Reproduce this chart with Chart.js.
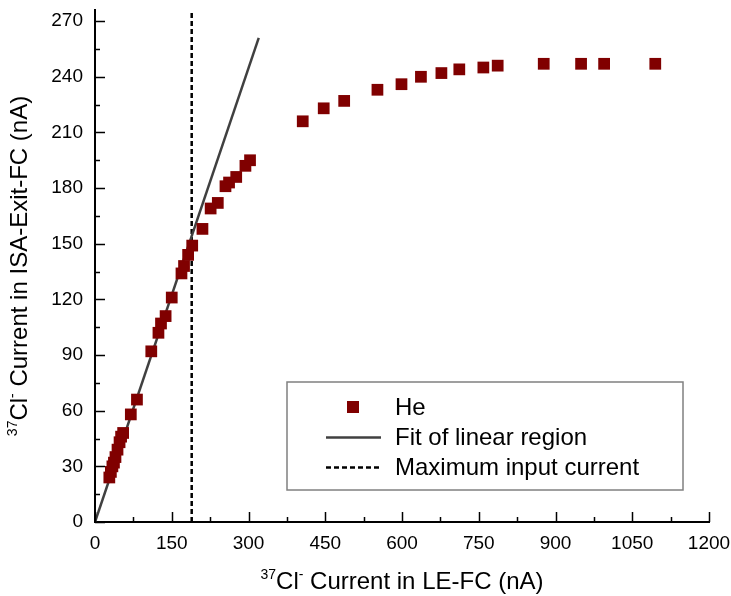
<!DOCTYPE html>
<html><head><meta charset="utf-8">
<script src="https://cdn.jsdelivr.net/npm/chart.js@4/dist/chart.umd.min.js"></script>
<style>html,body{margin:0;padding:0;background:#fff}#wrap{width:731px;height:596px}</style>
</head><body><div id="wrap"><canvas id="c" width="731" height="596"></canvas></div>
<script>
// ---- data ----
const heX = [28,31,34,37,40,44,48,51,55,70,82,110,124,129,138,150,169,174,182,190,210,226,240,255,262,276,294,303,406,447,487,552,599,637,677,712,759,787,877,950,995,1095];
const heY = [24,27,30,32,35,39,43,46,48,58,66,92,102,107,111,121,134,138,144,149,158,169,172,181,183,186,192,195,216,223,227,233,236,240,242,244,245,246,247,247,247,247];
const fitX = [0, 320];
const fitY = [0, 261];
const maxInputX = [189, 189];
const maxInputY = [0, 276];
const xTicks = [0,150,300,450,600,750,900,1050,1200];
const yTicks = [0,30,60,90,120,150,180,210,240,270];
const labels = ['He', 'Fit of linear region', 'Maximum input current'];

const FONT = '"Liberation Sans", Arial, sans-serif';
const zip = (xs, ys) => xs.map((x, i) => ({x, y: ys[i]}));

const innerTicks = {
  id: 'innerTicks',
  afterDraw(chart) {
    const {ctx, chartArea: a, scales: {x, y}} = chart;
    ctx.save();
    ctx.strokeStyle = '#000';
    ctx.lineWidth = 1.5;
    ctx.beginPath();
    for (let i = 0; i < xTicks.length; i++) {
      const px = Math.round(x.getPixelForValue(xTicks[i])) + 0.5;
      ctx.moveTo(px, a.bottom); ctx.lineTo(px, a.bottom - 10);
      if (i < xTicks.length - 1) {
        const pm = Math.round(x.getPixelForValue((xTicks[i] + xTicks[i+1]) / 2)) + 0.5;
        ctx.moveTo(pm, a.bottom); ctx.lineTo(pm, a.bottom - 5);
      }
    }
    for (let i = 0; i < yTicks.length; i++) {
      const py = Math.round(y.getPixelForValue(yTicks[i])) + 0.5;
      ctx.moveTo(a.left, py); ctx.lineTo(a.left + 10, py);
      if (i < yTicks.length - 1) {
        const pm = Math.round(y.getPixelForValue((yTicks[i] + yTicks[i+1]) / 2)) + 0.5;
        ctx.moveTo(a.left, pm); ctx.lineTo(a.left + 5, pm);
      }
    }
    ctx.stroke();
    ctx.restore();
  }
};

function drawRich(ctx, parts, x, y) {
  let total = 0;
  parts.forEach(p => { ctx.font = p[1] + 'px ' + FONT; total += ctx.measureText(p[0]).width; });
  let cx = x - total / 2;
  parts.forEach(p => {
    ctx.font = p[1] + 'px ' + FONT;
    ctx.fillText(p[0], cx, y - p[2]);
    cx += ctx.measureText(p[0]).width;
  });
}

const axisTitles = {
  id: 'axisTitles',
  afterDraw(chart) {
    const {ctx, chartArea: a} = chart;
    ctx.save();
    ctx.fillStyle = '#000';
    ctx.textBaseline = 'alphabetic';
    ctx.textAlign = 'left';
    drawRich(ctx, [['37', 14, 10], ['Cl', 24, 0], ['-', 14, 10], [' Current in LE-FC (nA)', 24, 0]], (a.left + a.right) / 2, 589);
    ctx.translate(27, (a.top + a.bottom) / 2);
    ctx.rotate(-Math.PI / 2);
    drawRich(ctx, [['37', 14, 10], ['Cl', 24, 0], ['-', 14, 10], [' Current in ISA-Exit-FC (nA)', 24, 0]], 0, 0);
    ctx.restore();
  }
};

const boxLegend = {
  id: 'boxLegend',
  afterDraw(chart) {
    const {ctx} = chart;
    const L = 287, T = 382, R = 683, B = 490;
    ctx.save();
    ctx.fillStyle = '#fff';
    ctx.fillRect(L, T, R - L, B - T);
    ctx.strokeStyle = '#808080';
    ctx.lineWidth = 1.5;
    ctx.strokeRect(L, T, R - L, B - T);
    ctx.font = '24px ' + FONT;
    ctx.textBaseline = 'middle';
    chart.data.datasets.forEach((ds, i) => {
      const cy = 407 + i * 30;
      if (ds.showLine === false) {
        ctx.fillStyle = ds.backgroundColor;
        ctx.fillRect(353 - 6, cy - 6, 12, 12);
      } else {
        ctx.strokeStyle = ds.borderColor;
        ctx.lineWidth = ds.borderWidth;
        ctx.setLineDash(ds.borderDash || []);
        ctx.beginPath();
        ctx.moveTo(326, cy + 0.5); ctx.lineTo(381, cy + 0.5);
        ctx.stroke();
        ctx.setLineDash([]);
      }
      ctx.fillStyle = '#000';
      ctx.fillText(ds.label, 395, cy + 1);
    });
    ctx.restore();
  }
};

new Chart(document.getElementById('c'), {
  type: 'scatter',
  data: {
    datasets: [
      { label: labels[0], data: zip(heX, heY), showLine: false, pointStyle: 'rect',
        pointRadius: 8.3, pointHoverRadius: 8.3, backgroundColor: '#800000', borderColor: '#800000', borderWidth: 0, order: 1 },
      { label: labels[1], data: zip(fitX, fitY), showLine: true, borderColor: '#404040', borderWidth: 2.5,
        pointRadius: 0, fill: false, order: 2 },
      { label: labels[2], data: zip(maxInputX, maxInputY), showLine: true, borderColor: '#000', borderWidth: 2.5,
        borderDash: [5, 3], pointRadius: 0, fill: false, order: 3 }
    ]
  },
  options: {
    responsive: false,
    animation: false,
    devicePixelRatio: 1,
    layout: { padding: { left: 0, right: 0, top: 0, bottom: 0 } },
    plugins: { legend: { display: false }, tooltip: { enabled: false } },
    scales: {
      x: {
        type: 'linear', min: 0, max: 1200,
        afterBuildTicks: s => { s.ticks = xTicks.map(v => ({value: v})); },
        afterFit: s => { s.height = 74; s.paddingLeft = 0; s.paddingRight = 22; },
        grid: { display: false, drawTicks: false },
        border: { display: true, color: '#000', width: 2 },
        ticks: { color: '#000', font: { family: FONT, size: 19, lineHeight: 1.0 }, padding: 12, maxRotation: 0, autoSkip: false,
                 callback: v => String(v) }
      },
      y: {
        type: 'linear', min: 0, max: 276,
        afterBuildTicks: s => { s.ticks = yTicks.map(v => ({value: v})); },
        afterFit: s => { s.width = 95; s.paddingTop = 10; s.paddingBottom = 0; },
        grid: { display: false, drawTicks: false },
        border: { display: true, color: '#000', width: 2 },
        ticks: { color: '#000', font: { family: FONT, size: 19, lineHeight: 1.0 }, padding: 12, autoSkip: false,
                 callback: v => String(v) }
      }
    }
  },
  plugins: [innerTicks, axisTitles, boxLegend]
});
</script></body></html>
